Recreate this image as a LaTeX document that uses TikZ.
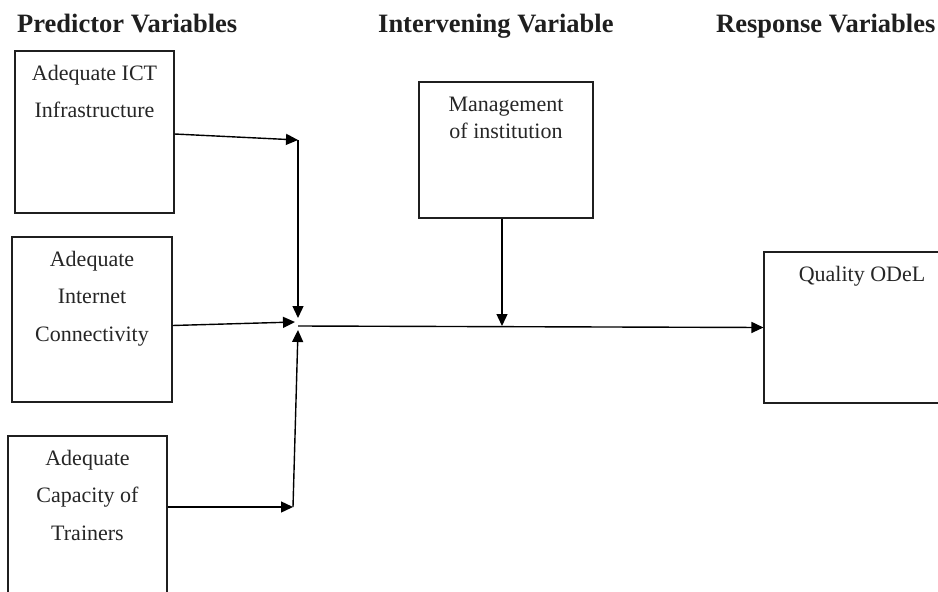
\documentclass[tikz,border=0pt]{standalone}
\usepackage{fontspec}
\setmainfont{Liberation Serif}
\usetikzlibrary{arrows.meta,calc}

\tikzset{
  box/.style={draw=black!88, line width=1.1pt, rectangle, inner sep=0pt},
  % multi-line labels: the base anchor sits on the last line's baseline
  boxtext/.style={anchor=base, align=center, inner sep=0pt,
    font=\fontsize{22}{37.5}\selectfont, text=black!85},
  tighttext/.style={boxtext, font=\fontsize{22}{27}\selectfont},
  heading/.style={anchor=base west, inner sep=0pt,
    font=\fontsize{26.5}{30}\selectfont\bfseries, text=black!88},
  arr/.style={line width=1.4pt, -{Triangle[length=12pt,width=11pt]}}
}

\begin{document}
\begin{tikzpicture}[x=1pt,y=-1pt]
\clip (0,0) rectangle (938,592);
\fill[white] (0,0) rectangle (938,592);

% column headings
\node[heading] (h1) at (17,32) {Predictor Variables};
\node[heading] (h2) at (378,32) {Intervening Variable};
\node[heading] (h3) at (716,32) {Response Variables};

% predictor boxes
\node[box, minimum width=159pt, minimum height=162pt] (b1) at (94.5,132) {};
\node[box, minimum width=160pt, minimum height=165pt] (b2) at (92,319.5) {};
\node[box, minimum width=159pt, minimum height=184pt] (b3) at (87.5,528) {};

% intervening and response boxes
\node[box, minimum width=174pt, minimum height=136pt] (m) at (506,150) {};
\node[box, minimum width=196pt, minimum height=151pt] (q) at (862,327.5) {};

% box labels (first baseline 30pt below each box top)
\node[boxtext] (t1) at ([yshift=-67.5pt]b1.north) {Adequate ICT\\Infrastructure};
\node[boxtext] (t2) at ([yshift=-105pt]b2.north) {Adequate\\Internet\\Connectivity};
\node[boxtext] (t3) at ([yshift=-105pt]b3.north) {Adequate\\Capacity of\\Trainers};
\node[tighttext] (tm) at ([yshift=-57pt]m.north) {Management\\of institution};
\node[boxtext] (tq) at ([yshift=-30pt]q.north) {Quality ODeL};

% junction points
\coordinate (j1) at (298,140);
\coordinate (jd) at (298,318);
\coordinate (j2) at (295,322);
\coordinate (j3) at (293,507);
\coordinate (ju) at (298,330);
\coordinate (hub) at (298,326);

% connectors
\draw[arr] ([yshift=-2pt]b1.east) -- (j1);
\draw[arr] (j1) -- (jd);
\draw[arr] ([yshift=-6pt]b2.east) -- (j2);
\draw[arr] (b3.east |- j3) -- (j3);
\draw[arr] (j3) -- (ju);
\draw[arr] (hub) -- (q.west);
\draw[arr] ([xshift=-4pt]m.south) -- ([xshift=-4pt]m.south |- hub);
\end{tikzpicture}
\end{document}
